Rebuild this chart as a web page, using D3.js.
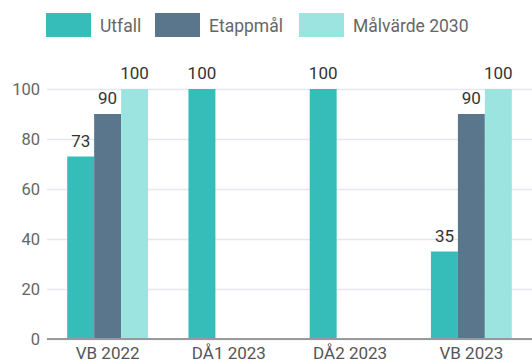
<!DOCTYPE html>
<html>
<head>
<meta charset="utf-8">
<script src="https://cdn.jsdelivr.net/npm/d3@7"></script>
<style>
  html, body { margin: 0; padding: 0; background: #fff; }
  svg { display: block; font-family: Roboto, "Noto Sans", sans-serif; }
</style>
</head>
<body>
<svg id="chart" width="532" height="364"></svg>
<script>
// Periods on the x axis
const categories = ["VB 2022", "DÅ1 2023", "DÅ2 2023", "VB 2023"];
// Series names
const seriesNames = ["Utfall", "Etappmål", "Målvärde 2030"];
// Values per series (null = no value for that period)
const utfall = [73, 100, 100, 35];
const etappmal = [90, null, null, 90];
const malvarde = [100, null, null, 100];
// Y axis ticks
const yTicks = [0, 20, 40, 60, 80, 100];

const colors = ["#36bcb9", "#5a768d", "#9be4df"];
const seriesValues = [utfall, etappmal, malvarde];

const svg = d3.select("#chart");
const margin = { left: 47, right: 0, top: 89, bottom: 25 };
const W = 532, H = 364;

const x0 = d3.scaleBand().domain(categories).range([margin.left, W - margin.right]).padding(0);
const bw = x0.bandwidth();
const x1 = d3.scaleBand().domain(seriesNames).range([bw / 6, bw * 5 / 6]).padding(0);
const y = d3.scaleLinear().domain([0, 100]).range([H - margin.bottom, margin.top]);

// Gridlines and y labels
const yAxis = d3.axisLeft(y).tickValues(yTicks).tickSize(-(W - margin.left)).tickPadding(7);
const gy = svg.append("g").attr("transform", `translate(${margin.left},0)`).call(yAxis);
gy.select(".domain").remove();
gy.selectAll(".tick line").attr("stroke", "#e5e8ee").attr("stroke-width", 1.5);
gy.selectAll(".tick text").attr("fill", "#666").attr("font-size", 16.5).attr("font-family", "Roboto, sans-serif");

// Bars with value labels
const groups = svg.append("g").selectAll("g")
  .data(categories)
  .join("g")
  .attr("transform", d => `translate(${x0(d)},0)`);

categories.forEach((cat, ci) => {
  const g = groups.filter(d => d === cat);
  seriesNames.forEach((s, si) => {
    const v = seriesValues[si][ci];
    if (v == null) return;
    g.append("rect")
      .attr("x", x1(s))
      .attr("y", y(v))
      .attr("width", x1.bandwidth())
      .attr("height", y(0) - y(v))
      .attr("fill", colors[si]);
    g.append("text")
      .attr("x", x1(s) + x1.bandwidth() / 2)
      .attr("y", y(v) - 10)
      .attr("text-anchor", "middle")
      .attr("font-size", 17)
      .attr("fill", "#333")
      .text(v);
  });
});

// Baseline and x labels
const xAxis = d3.axisBottom(x0).tickSize(0).tickPadding(8);
const gx = svg.append("g").attr("transform", `translate(0,${y(0)})`).call(xAxis);
gx.select(".domain").attr("stroke", "#999").attr("stroke-width", 2)
  .attr("d", `M${margin.left},0H${W}`);
gx.selectAll(".tick text").attr("fill", "#555").attr("font-size", 17).attr("font-family", "Roboto, sans-serif");

// Legend
const legendX = [46, 155, 299];
const legend = svg.append("g");
seriesNames.forEach((s, i) => {
  legend.append("rect")
    .attr("x", legendX[i]).attr("y", 13)
    .attr("width", 45).attr("height", 24)
    .attr("fill", colors[i]);
  legend.append("text")
    .attr("x", legendX[i] + 54).attr("y", 31.5)
    .attr("font-size", 17.5)
    .attr("fill", "#666")
    .text(s);
});
</script>
</body>
</html>
